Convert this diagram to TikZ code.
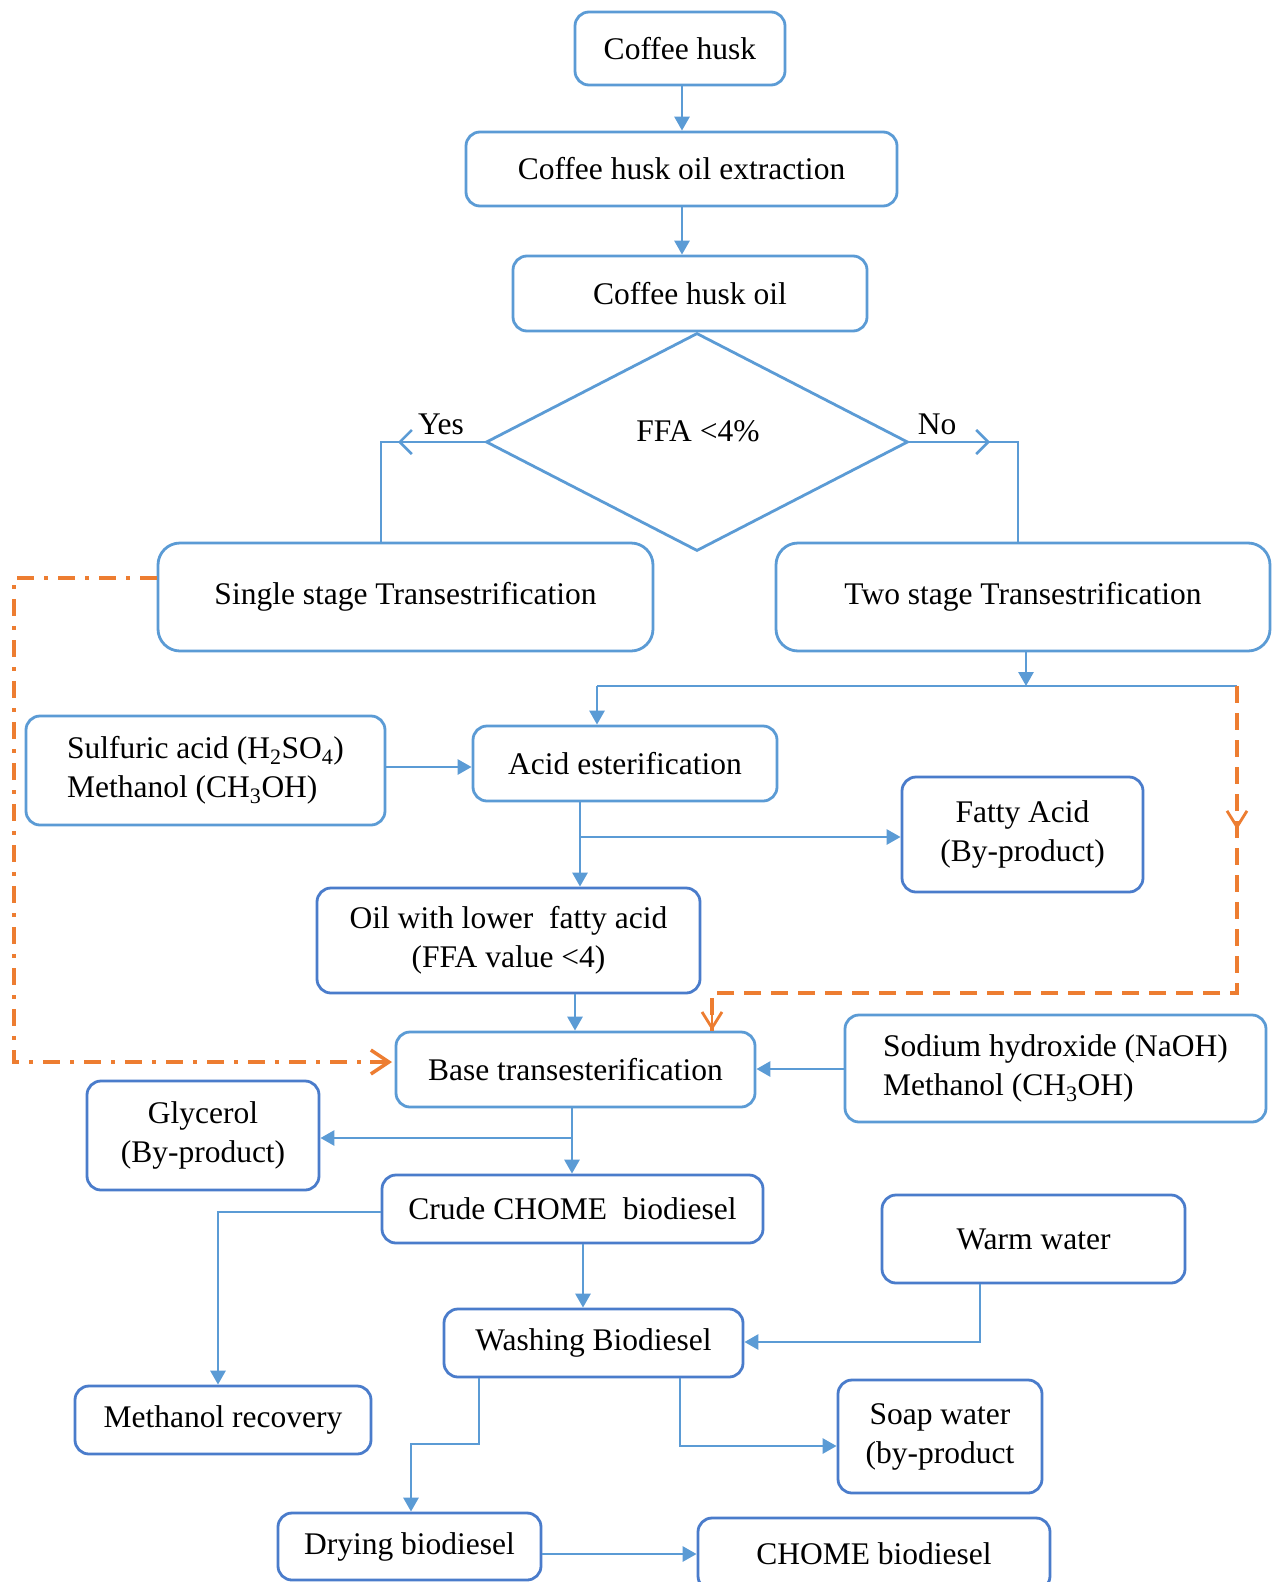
\documentclass[tikz,border=0pt]{standalone}
\usepackage{fontspec}
\setmainfont{Liberation Serif}
\usetikzlibrary{shapes.geometric,arrows.meta,decorations.markings}
\definecolor{flowblue}{HTML}{5B9BD5}
\definecolor{deepblue}{HTML}{4A7CCB}
\definecolor{flowor}{HTML}{ED7D31}

\begin{document}
\begin{tikzpicture}[x=1pt,y=-1pt,
  every node/.style={font=\fontsize{31.5}{39}\selectfont},
  proc/.style={draw=flowblue, line width=2.8pt, rounded corners=14pt, inner sep=0pt, align=center},
  bigproc/.style={proc, rounded corners=22pt},
  darkproc/.style={proc, draw=deepblue},
  flow/.style={draw=flowblue, line width=2.8pt},
  arr/.style={flow, -{Triangle[length=14pt,width=15pt]}},
  openarr/.style={flow, -{Straight Barb[length=12pt,width=24pt,line width=2.6pt]}},
  orangedash/.style={draw=flowor, line width=3.5pt, dash pattern=on 17pt off 10pt},
  orangedashdot/.style={draw=flowor, line width=3.5pt, dash pattern=on 17pt off 10pt on 4pt off 10pt},
  orangetip/.style={-{Straight Barb[length=18pt,width=24pt,line width=3.5pt]}},
]
\useasboundingbox[fill=white] (0,0) rectangle (1274,1582);

% main column
\node[proc, minimum width=210pt, minimum height=73pt] (husk) at (680,48.5) {Coffee husk};
\node[proc, minimum width=431pt, minimum height=74pt] (extr) at (681.5,169) {Coffee husk oil extraction};
\node[proc, minimum width=354pt, minimum height=75pt] (oil) at (690,293.5) {Coffee husk oil};

% decision
\node[draw=flowblue, line width=2.8pt, shape=diamond, inner sep=0pt,
      minimum width=422pt, minimum height=218pt] (dia) at (697,442) {};
\node (ffa) at (698,431) {FFA <4\%};
\node (yes) at (441,424) {Yes};
\node (no) at (937,424) {No};

\node[bigproc, minimum width=495pt, minimum height=108pt] (single) at (405.5,597) {Single stage Transestrification};
\node[bigproc, minimum width=494pt, minimum height=108pt] (two) at (1023,597) {Two stage Transestrification};

% acid esterification branch
\node[proc, minimum width=359pt, minimum height=109pt, align=left] (sulf) at (205.5,770.5)
  {Sulfuric acid (H\textsubscript{2}SO\textsubscript{4})\\Methanol (CH\textsubscript{3}OH)};
\node[proc, minimum width=304pt, minimum height=75pt] (acid) at (625,763.5) {Acid esterification};
\node[darkproc, minimum width=241pt, minimum height=115pt] (fatty) at (1022.5,834.5) {Fatty Acid\\(By-product)};
\node[darkproc, minimum width=383pt, minimum height=105pt] (lowffa) at (508.5,940.5) {Oil with lower\ \ fatty acid\\(FFA value <4)};

% base transesterification
\node[proc, minimum width=359pt, minimum height=75pt] (base) at (575.5,1069.5) {Base transesterification};
\node[proc, minimum width=421pt, minimum height=107pt, align=left] (naoh) at (1055.5,1068.5)
  {Sodium hydroxide (NaOH)\\Methanol (CH\textsubscript{3}OH)};
\node[darkproc, minimum width=232pt, minimum height=109pt] (glyc) at (203,1135.5) {Glycerol\\(By-product)};
\node[darkproc, minimum width=381pt, minimum height=68pt] (crude) at (572.5,1209) {Crude CHOME\ \ biodiesel};
\node[darkproc, minimum width=296pt, minimum height=68pt] (methrec) at (223,1420) {Methanol recovery};
\node[darkproc, minimum width=303pt, minimum height=88pt] (warm) at (1033.5,1239) {Warm water};
\node[darkproc, minimum width=299pt, minimum height=68pt] (wash) at (593.5,1343) {Washing Biodiesel};
\node[darkproc, minimum width=204pt, minimum height=113pt] (soap) at (940,1436.5) {Soap water\\(by-product};
\node[darkproc, minimum width=263pt, minimum height=67pt] (dry) at (409.5,1546.5) {Drying biodiesel};
\node[darkproc, minimum width=352pt, minimum height=72pt] (chome) at (874,1554) {CHOME biodiesel};

% top chain
\draw[arr] (husk.south -| 682,0) -- (extr.north -| 682,0);
\draw[arr] (extr.south -| 682,0) -- (oil.north -| 682,0);

% yes / no branches
\coordinate (yesc) at (381,442);
\coordinate (noc) at (1018,442);
\draw[flow] (dia.west) -- (yesc) -- (single.north -| yesc);
\draw[openarr] (dia.west) -- (398,442);
\draw[flow] (dia.east) -- (noc) -- (two.north -| noc);
\draw[openarr] (dia.east) -- (990,442);

% two stage split
\coordinate (splitL) at (597,686);
\coordinate (splitR) at (1237,686);
\draw[arr] (two.south -| 1026,0) -- (1026,686);
\draw[flow] (splitL) -- (splitR);
\draw[arr] (splitL) -- (acid.north -| splitL);
\draw[orangedash, postaction={decorate}, decoration={markings,
      mark=at position 0.165 with {\arrow[flowor, line width=2.8pt]{Straight Barb[length=16pt,width=20pt]}}}]
  (splitR) -- (1237,993) -- (712,993) -- (base.north -| 712,0);
\draw[draw=flowor, line width=2.8pt, -{Straight Barb[length=16pt,width=20pt]}]
  (712,1008) -- (base.north -| 712,0);

% acid esterification flows
\draw[arr] (sulf.east |- 0,767) -- (acid.west |- 0,767);
\coordinate (acidsplit) at (580,837);
\draw[arr] (acid.south -| acidsplit) -- (lowffa.north -| acidsplit);
\draw[arr] (acidsplit) -- (fatty.west |- acidsplit);
\draw[arr] (lowffa.south -| 575,0) -- (base.north -| 575,0);

% single stage bypass
\coordinate (byp1) at (14,578);
\coordinate (byp2) at (14,1062);
\draw[orangedashdot] (single.west |- byp1) -- (byp1) -- (byp2) -- (385,1062);
\draw[draw=flowor, line width=3.5pt, orangetip] (370,1062) -- (392,1062);

% base transesterification flows
\draw[arr] (naoh.west |- 0,1069) -- (base.east |- 0,1069);
\coordinate (basesplit) at (572,1138);
\draw[arr] (base.south -| basesplit) -- (crude.north -| basesplit);
\draw[arr] (basesplit) -- (glyc.east |- basesplit);
\draw[arr] (crude.west |- 0,1212) -| (methrec.north -| 218,0);
\draw[arr] (crude.south -| 583,0) -- (wash.north -| 583,0);
\draw[arr] (warm.south -| 980,0) |- (wash.east |- 0,1342);

% washing outputs
\draw[arr] (wash.south -| 479,0) -- (479,1444) -- (411,1444) -- (dry.north -| 411,0);
\draw[arr] (wash.south -| 680,0) |- (soap.west |- 0,1446);
\draw[arr] (dry.east |- 0,1554) -- (chome.west |- 0,1554);
\end{tikzpicture}
\end{document}
